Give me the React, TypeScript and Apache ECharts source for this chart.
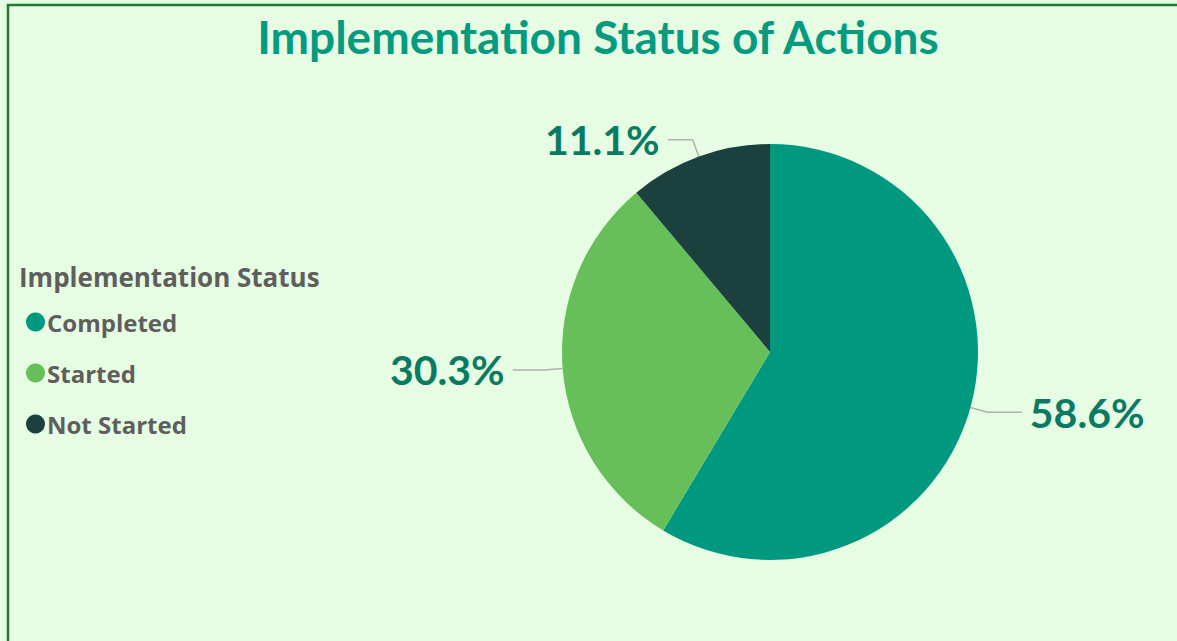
import React, { useEffect, useRef } from "react";
import * as echarts from "echarts";

const categories = ["Completed", "Started", "Not Started"];
const values = [58, 30, 11];
const colors = ["#009980", "#67bf5a", "#1b403d"];
const lineTails = [34, 32, 25];
const titleText = "Implementation Status of Actions";
const legendTitle = "Implementation Status";

export default function App() {
  const ref = useRef<HTMLDivElement>(null);
  useEffect(() => {
    const chart = echarts.init(ref.current!, null, { renderer: "svg" });
    chart.setOption({
      animation: false,
      backgroundColor: "#e6fde3",
      title: {
        text: titleText,
        left: 593,
        textAlign: "center",
        top: 8,
        textStyle: { fontFamily: "Lato", fontWeight: "bold", fontSize: 46, color: "#069a7f" },
      },
      legend: {
        orient: "vertical",
        left: 21,
        top: 302,
        itemGap: 21,
        icon: "circle",
        itemWidth: 19,
        itemHeight: 19,
        textStyle: {
          fontFamily: "Open Sans",
          fontWeight: "bold",
          fontSize: 24,
          lineHeight: 30,
          color: "#605e5c",
          padding: [0, 0, 0, -3],
        },
        data: categories,
      },
      graphic: [
        {
          type: "rect",
          shape: { x: 8, y: 5, width: 1200, height: 700 },
          style: { fill: "none", stroke: "#1f7a2d", lineWidth: 2.5 },
        },
        {
          type: "text",
          left: 19,
          top: 264,
          style: { text: legendTitle, font: "bold 26px 'Open Sans'", fill: "#605e5c" },
        },
      ],
      series: [
        {
          type: "pie",
          center: [770, 352],
          radius: 208,
          startAngle: 90,
          clockwise: true,
          percentPrecision: 1,
          label: {
            formatter: "{d}%",
            fontFamily: "Lato",
            fontWeight: "bold",
            fontSize: 41,
            color: "#0b7a62",
            distanceToLabelLine: 8,
          },
          labelLine: { length: 18, length2: 25, lineStyle: { color: "#b0b0b0", width: 1.5 } },
          data: categories.map((c, i) => ({
            name: c,
            value: values[i],
            itemStyle: { color: colors[i] },
            labelLine: { length2: lineTails[i] },
          })),
        },
      ],
    });
    return () => chart.dispose();
  }, []);
  return <div ref={ref} style={{ position: "fixed", left: 0, top: 0, width: 1177, height: 641 }} />;
}
